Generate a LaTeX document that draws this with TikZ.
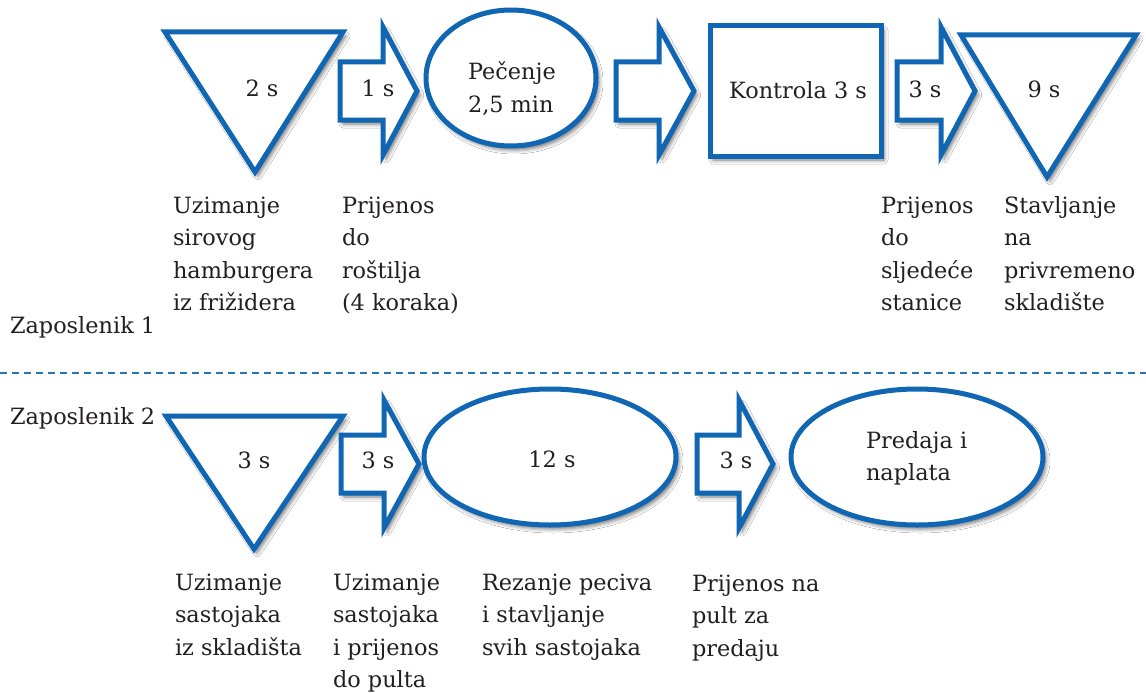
\documentclass[tikz,border=0pt]{standalone}
\usepackage{fontspec}
\setmainfont{DejaVu Serif}
\usetikzlibrary{shadows.blur}
\definecolor{blu}{HTML}{1066B2}
\definecolor{ink}{HTML}{231F20}
\tikzset{
  shp/.style={draw=blu, line width=5pt, fill=white, line join=miter,
    blur shadow={shadow xshift=3pt, shadow yshift=-4pt, shadow blur radius=4pt, shadow opacity=55}},
  txt/.style={inner sep=0pt, outer sep=0pt, text=ink, font=\fontsize{22.4}{32.5}\selectfont},
  lane/.style={draw=blu!90, line width=2.5pt, dash pattern=on 7pt off 5pt},
}
\newcommand\barrow[4]{%
  \path[shp] (#1,#4-29) -- (#2,#4-29) -- (#2,#4-64) -- (#3,#4) -- (#2,#4+64) -- (#2,#4+29) -- (#1,#4+29) -- cycle;}
\newcommand\lbl[1]{\begin{tabular}[t]{@{}l@{}}#1\end{tabular}}
\begin{document}
\begin{tikzpicture}[x=1pt,y=-1pt]
\useasboundingbox[fill=white] (0,0) rectangle (1146,693);
% ---- row 1 shapes
\path[shp] (165,32) -- (343,32) -- (255,172) -- cycle;
\barrow{340}{383}{417}{91}
\path[shp] (511,78) ellipse [x radius=85, y radius=68];
\barrow{616}{659}{694}{91}
\path[shp] (710,26) rectangle (881,156);
\barrow{897}{941}{975}{91}
\path[shp] (961,35) -- (1136,35) -- (1047,177) -- cycle;
% ---- row 1 texts
\node[txt, anchor=base] (t1) at (262,96) {2 s};
\node[txt, anchor=base] (a1) at (378,96) {1 s};
\node[txt, anchor=base west] (p1) at (468,80) {\lbl{Pečenje\\2,5 min}};
\node[txt, anchor=base] (k1) at (798,98) {Kontrola 3 s};
\node[txt, anchor=base] (a3) at (925,97) {3 s};
\node[txt, anchor=base] (t2) at (1044,97) {9 s};
% ---- row 1 labels
\node[txt, anchor=base west] (l1) at (173,213) {\lbl{Uzimanje\\sirovog\\hamburgera\\iz frižidera}};
\node[txt, anchor=base west] (l2) at (342,213) {\lbl{Prijenos\\do\\roštilja\\(4 koraka)}};
\node[txt, anchor=base west] (l3) at (881,213) {\lbl{Prijenos\\do\\sljedeće\\stanice}};
\node[txt, anchor=base west] (l4) at (1004,213) {\lbl{Stavljanje\\na\\privremeno\\skladište}};
\node[txt, anchor=base west] (z1) at (10,333) {Zaposlenik 1};
% ---- lane divider
\coordinate (dl) at (0,373);
\coordinate (dr) at (1146,373);
\draw[lane] (dl) -- (dr);
\node[txt, anchor=base west] (z2) at (10,424) {Zaposlenik 2};
% ---- row 2 shapes
\path[shp] (166,416) -- (343,416) -- (254,549) -- cycle;
\barrow{341}{384}{419}{464}
\path[shp] (550,457) ellipse [x radius=126, y radius=68];
\barrow{697}{739}{773}{464}
\path[shp] (917,457) ellipse [x radius=126, y radius=68];
% ---- row 2 texts
\node[txt, anchor=base] (t3) at (254,468) {3 s};
\node[txt, anchor=base] (a4) at (378,468) {3 s};
\node[txt, anchor=base] (e2) at (552,467) {12 s};
\node[txt, anchor=base] (a5) at (736,468) {3 s};
\node[txt, anchor=base west] (e3) at (866,448) {\lbl{Predaja i\\naplata}};
% ---- row 2 labels
\node[txt, anchor=base west] (m1) at (175,590) {\lbl{Uzimanje\\sastojaka\\iz skladišta}};
\node[txt, anchor=base west] (m2) at (333,590) {\lbl{Uzimanje\\sastojaka\\i prijenos\\do pulta}};
\node[txt, anchor=base west] (m3) at (482,590) {\lbl{Rezanje peciva\\i stavljanje\\svih sastojaka}};
\node[txt, anchor=base west] (m4) at (692,591) {\lbl{Prijenos na\\pult za\\predaju}};
\end{tikzpicture}
\end{document}
